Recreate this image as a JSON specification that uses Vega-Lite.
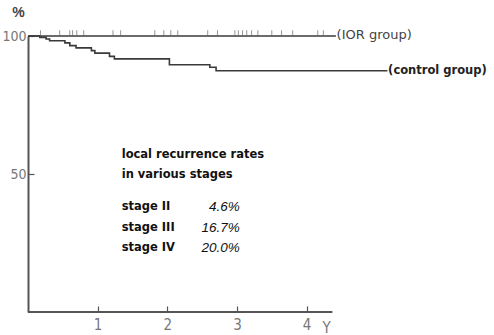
{
  "$schema": "https://vega.github.io/schema/vega-lite/v6.json",
  "width": 466,
  "height": 276,
  "autosize": {"type": "none"},
  "padding": {"left": 28, "top": 36, "right": 0, "bottom": 23},
  "background": "white",
  "config": {"view": {"stroke": null}, "font": "Liberation Sans"},
  "datasets": {
    "curves": [
      {"group": "IOR", "t": 0, "s": 100},
      {"group": "IOR", "t": 4.42, "s": 100},
      {"group": "control", "t": 0, "s": 100},
      {"group": "control", "t": 0.17, "s": 99.5},
      {"group": "control", "t": 0.26, "s": 98.9},
      {"group": "control", "t": 0.31, "s": 98.3},
      {"group": "control", "t": 0.53, "s": 97.5},
      {"group": "control", "t": 0.6, "s": 96.5},
      {"group": "control", "t": 0.69, "s": 95.7},
      {"group": "control", "t": 0.91, "s": 94.7},
      {"group": "control", "t": 0.96, "s": 93.8},
      {"group": "control", "t": 1.17, "s": 92.6},
      {"group": "control", "t": 1.24, "s": 91.7},
      {"group": "control", "t": 2.03, "s": 89.6},
      {"group": "control", "t": 2.61, "s": 88.7},
      {"group": "control", "t": 2.7, "s": 87.4},
      {"group": "control", "t": 5.16, "s": 87.4}
    ],
    "censored": [
      {"t": 0.18}, {"t": 0.455}, {"t": 0.6}, {"t": 0.64}, {"t": 0.7}, {"t": 0.8},
      {"t": 1.22}, {"t": 1.33}, {"t": 1.82}, {"t": 1.95}, {"t": 2.05}, {"t": 2.15},
      {"t": 2.58}, {"t": 2.72}, {"t": 2.97}, {"t": 3.02}, {"t": 3.08}, {"t": 3.14},
      {"t": 3.21}, {"t": 3.3}, {"t": 3.5}, {"t": 3.64}, {"t": 3.8}, {"t": 4.16}, {"t": 4.24}
    ],
    "groupLabels": [
      {"t": 4.43, "s": 100.2, "label": "(IOR group)", "kind": "IOR"},
      {"t": 5.17, "s": 87.2, "label": "(control group)", "kind": "control"}
    ],
    "notes": [
      {"t": 1.345, "s": 56.9, "label": "local recurrence rates"},
      {"t": 1.345, "s": 49.6, "label": "in various stages"},
      {"t": 1.345, "s": 38.0, "label": "stage II"},
      {"t": 1.345, "s": 30.4, "label": "stage III"},
      {"t": 1.345, "s": 23.2, "label": "stage IV"}
    ],
    "rates": [
      {"t": 3.04, "s": 38.0, "label": "4.6%"},
      {"t": 3.04, "s": 30.4, "label": "16.7%"},
      {"t": 3.04, "s": 23.2, "label": "20.0%"}
    ]
  },
  "layer": [
    {
      "data": {"name": "curves"},
      "mark": {"type": "line", "interpolate": "step-after", "color": "#3a3a3a", "strokeWidth": 1.6},
      "encoding": {
        "x": {
          "field": "t", "type": "quantitative",
          "scale": {"domain": [0, 6.69], "nice": false, "zero": true},
          "axis": {
            "values": [1, 2, 3, 4],
            "format": "d",
            "domain": false,
            "grid": false,
            "tickSize": -6,
            "tickColor": "#555",
            "tickWidth": 1.2,
            "labelFont": "DejaVu Sans Condensed, Liberation Sans",
            "labelFontSize": 15,
            "labelColor": "#777",
            "labelPadding": 11,
            "title": "Y",
            "titleFont": "DejaVu Sans Condensed, Liberation Sans",
            "titleFontSize": 15,
            "titleFontWeight": "normal",
            "titleColor": "#777",
            "titleX": 298,
            "titleY": 15,
            "titleAlign": "center",
            "titleBaseline": "middle"
          }
        },
        "y": {
          "field": "s", "type": "quantitative",
          "scale": {"domain": [0, 100], "nice": false},
          "axis": {
            "values": [50, 100],
            "grid": false,
            "domainColor": "#555",
            "domainWidth": 2,
            "tickSize": -6,
            "tickColor": "#555",
            "tickWidth": 1.2,
            "labelFont": "DejaVu Sans Condensed, Liberation Sans",
            "labelFontSize": 14,
            "labelColor": "#777",
            "labelPadding": 8,
            "title": "%",
            "titleFont": "Liberation Sans",
            "titleFontSize": 14,
            "titleFontWeight": "bold",
            "titleColor": "#444",
            "titleAngle": 0,
            "titleX": -10,
            "titleY": -24,
            "titleAlign": "center",
            "titleBaseline": "middle"
          }
        },
        "detail": {"field": "group"}
      }
    },
    {
      "data": {"name": "censored"},
      "mark": {"type": "tick", "orient": "vertical", "color": "#666", "size": 6, "thickness": 1},
      "encoding": {
        "x": {"field": "t", "type": "quantitative"},
        "y": {"datum": 101}
      }
    },
    {
      "data": {"values": [{"a": 0, "b": 4.37}]},
      "mark": {"type": "rule", "color": "#555", "strokeWidth": 2},
      "encoding": {
        "x": {"field": "a", "type": "quantitative"},
        "x2": {"field": "b"},
        "y": {"datum": 0}
      }
    },
    {
      "data": {"name": "groupLabels"},
      "transform": [{"filter": "datum.kind == 'IOR'"}],
      "mark": {"type": "text", "align": "left", "baseline": "middle", "fontSize": 13, "color": "#444", "font": "DejaVu Sans"},
      "encoding": {
        "x": {"field": "t", "type": "quantitative"},
        "y": {"field": "s", "type": "quantitative"},
        "text": {"field": "label"}
      }
    },
    {
      "data": {"name": "groupLabels"},
      "transform": [{"filter": "datum.kind == 'control'"}],
      "mark": {"type": "text", "align": "left", "baseline": "middle", "fontSize": 11.5, "fontWeight": "bold", "color": "#222", "font": "DejaVu Sans"},
      "encoding": {
        "x": {"field": "t", "type": "quantitative"},
        "y": {"field": "s", "type": "quantitative"},
        "text": {"field": "label"}
      }
    },
    {
      "data": {"name": "notes"},
      "mark": {"type": "text", "align": "left", "baseline": "middle", "fontSize": 11.5, "fontWeight": "bold", "color": "#111", "font": "DejaVu Sans"},
      "encoding": {
        "x": {"field": "t", "type": "quantitative"},
        "y": {"field": "s", "type": "quantitative"},
        "text": {"field": "label"}
      }
    },
    {
      "data": {"name": "rates"},
      "mark": {"type": "text", "align": "right", "baseline": "middle", "fontSize": 13.5, "fontStyle": "italic", "color": "#111", "font": "Liberation Sans"},
      "encoding": {
        "x": {"field": "t", "type": "quantitative"},
        "y": {"field": "s", "type": "quantitative"},
        "text": {"field": "label"}
      }
    }
  ]
}
